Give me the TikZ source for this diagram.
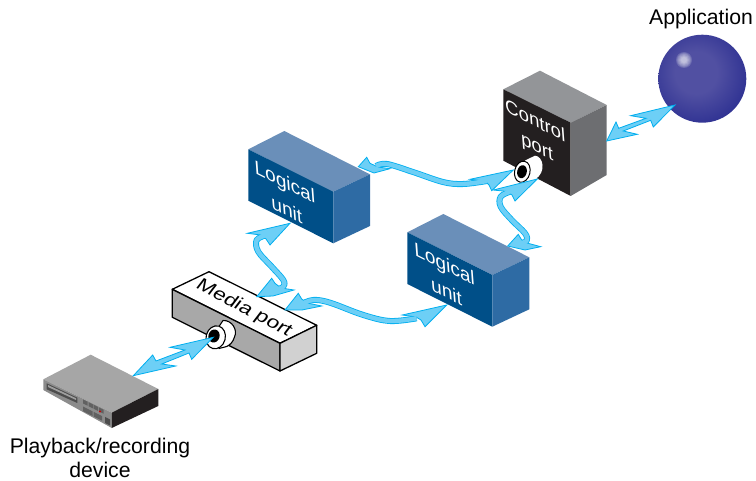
\documentclass[tikz,border=0pt]{standalone}
\usepackage{fontspec}
\setmainfont{Liberation Sans}
\definecolor{wireedge}{HTML}{00AEEF}
\definecolor{wirefill}{HTML}{6DCFF6}
\definecolor{ltop}{HTML}{6A8FB9}
\definecolor{lfront}{HTML}{004F88}
\definecolor{lside}{HTML}{2E6BA4}
\definecolor{ctop}{HTML}{939598}
\definecolor{cfront}{HTML}{231F20}
\definecolor{cside}{HTML}{6D6E71}
\definecolor{ballmid}{HTML}{5150A2}
\definecolor{balldark}{HTML}{2E3192}
\definecolor{ballrim}{HTML}{6F6FB4}
\pgfdeclareradialshading{ballbase}{\pgfpoint{-4bp}{4bp}}{
 color(0bp)=(ballmid); color(12bp)=(ballmid); color(30bp)=(balldark); color(50bp)=(balldark); color(55bp)=(ballrim); color(100bp)=(ballrim)}
\tikzset{
 x=1pt,y=-1pt,
 wireout/.style={draw=wireedge,line width=6pt,line cap=butt,line join=round},
 wirein/.style={draw=wirefill,line width=4.4pt,line cap=butt,line join=round},
 barb/.style={draw=wireedge,fill=wirefill,line width=.8pt,line join=miter},
 label/.style={font=\fontsize{21.2}{23.5}\selectfont,align=center,inner sep=0pt,text=black},
 facetext/.style={align=center,inner sep=0pt,text=white,cm={.93,-.47,-.07,.95,(0,0)}},
 lutext/.style={facetext,font=\fontsize{20.5}{29}\selectfont},
 ctltext/.style={facetext,font=\fontsize{20}{27}\selectfont},
 mediatext/.style={font=\fontsize{20}{24}\selectfont,inner sep=0pt,text=black,cm={.98,-.52,.55,.72,(0,0)}},
 mbox/.style={draw=black,line width=1.3pt,line join=round},
}
\newcommand\fatwire[3]{\draw[wireout] #1;\draw[barb] #2 -- cycle;\draw[barb] #3 -- cycle;\draw[wirein] #1;}
\begin{document}
\begin{tikzpicture}
\useasboundingbox (0,0) rectangle (756,481);
% ---------- sphere
\shade[shading=ballbase] (702.3,78.7) circle (44);
\foreach \r in {8,7,6,5,4,3}{\fill[white,opacity=.16] (684,60) circle (\r);}
\node[label] (app) at (701,19) {Application};
% ---------- control port
\fill[ctop] (503.3,89.3) -- (540,70.7) -- (606.7,105) -- (570.7,122.7) -- cycle;
\fill[cfront] (503.3,89.3) -- (570.7,122.7) -- (570.7,196) -- (503.3,160.7) -- cycle;
\fill[cside] (570.7,122.7) -- (606.7,105) -- (606.7,175) -- (570.7,196) -- cycle;
\node[ctltext] (ctl) at (536.3,135) {Control\\port};
% cylinder
\fill[white] (525,160.5) -- (535,155.7) .. controls (543,156) and (547,172) .. (535,179.5) -- (520,183) -- cycle;
\fill[white,draw=black,line width=1pt,rotate around={-13:(522.3,171.7)}] (522.3,171.7) ellipse (7.7 and 10.7);
\fill[black,rotate around={-13:(522,171.7)}] (522,171.7) ellipse (4.8 and 6.6);
% ---------- logical units
\fill[ltop] (248.3,149.3) -- (284.3,131) -- (370,174.3) -- (333.3,191.7) -- cycle;
\fill[lfront] (248.3,149.3) -- (333.3,191.7) -- (333.3,243.3) -- (248.3,200.7) -- cycle;
\fill[lside] (333.3,191.7) -- (370,174.3) -- (370,226) -- (333.3,243.3) -- cycle;
\node[lutext] (lu1) at (285.8,195.5) {Logical\\unit};
\fill[ltop] (407.3,232.3) -- (443.3,214) -- (529.3,257.3) -- (492.3,275) -- cycle;
\fill[lfront] (407.3,232.3) -- (492.3,275) -- (492.3,326.7) -- (407.3,284) -- cycle;
\fill[lside] (492.3,275) -- (529.3,257.3) -- (529.3,309.3) -- (492.3,326.7) -- cycle;
\node[lutext] (lu2) at (445.5,277.5) {Logical\\unit};
% ---------- media port
\draw[mbox,fill=white] (172.3,289.3) -- (209,271.7) -- (316.7,325.3) -- (280,343.3) -- cycle;
\draw[mbox,fill=black!34] (172.3,289.3) -- (280,343.3) -- (280,371) -- (172.3,317.3) -- cycle;
\draw[mbox,fill=black!18] (280,343.3) -- (316.7,325.3) -- (316.7,353.3) -- (280,371) -- cycle;
\node[mediatext] (media) at (244,308.5) {Media port};
\draw[black,line width=1.1pt,fill=white,line join=round] (219,326.5) -- (223,320.5) .. controls (232,320) and (238,330) .. (234.5,337) .. controls (233,342) and (230,345) .. (226.7,346.5) -- (219,348.5) -- cycle;
\draw[black,line width=1.1pt,fill=white,rotate around={-15:(215.7,337.3)}] (215.7,337.3) ellipse (9.6 and 11.6);
\fill[black,rotate around={-15:(214,336)}] (214,336) ellipse (5.6 and 6.6);
% ---------- device
\fill[black!35] (43.3,379.3) -- (90.7,354.7) -- (158.3,389) -- (111.7,412.7) -- cycle;
\fill[black!45] (43.3,379.3) -- (111.7,412.7) -- (111.7,428) -- (43.3,390) -- cycle;
\fill[cfront] (111.7,412.7) -- (158.3,389) -- (158.3,406) -- (111.7,428) -- cycle;
\fill[black!70] (46.7,383.3) -- (77.3,397.7) -- (77.3,403) -- (46.7,389.3) -- cycle;
\fill[black!38] (48,385) -- (76,398.2) -- (76,400) -- (48,387) -- cycle;
\foreach \x in {83,88.5,93.5,99}{
 \fill[black!62] (\x,{399.5+(\x-83)*.5}) -- ++(4.5,2.2) -- ++(0,4) -- ++(-4.5,-2.2) -- cycle;}
\fill[black!62] (83,406.5) -- (92.5,411.3) -- (92.5,416) -- (83,411.2) -- cycle;
\fill[black!62] (93.5,411.8) -- (102,416) -- (102,420.7) -- (93.5,416.5) -- cycle;
\fill[red!80!black] (100,411.5) circle (1.2);
\fill[black!70] (105,417) -- (110,419.5) -- (110,425.5) -- (105,423) -- cycle;
\node[label] (dev) at (100,458) {Playback/recording\\device};
% ---------- connector anchors
\coordinate (appT) at (675,105);
\coordinate (ctlS) at (606.7,141);
\coordinate (medP) at (213.3,337.3);
\coordinate (devT) at (133.3,375.7);
\coordinate (luaR) at (358.3,166.7);
\coordinate (ctlA) at (513.3,170);
\coordinate (ctlB) at (537.3,179);
\coordinate (lubT) at (507.7,246);
\coordinate (luaB) at (290,223.3);
\coordinate (medA) at (256.7,296.7);
\coordinate (medB) at (285,310);
\coordinate (lubL) at (446.7,305);
% ---------- connectors
\draw[barb] (appT) -- (630.7,115.7) -- (646,118.3) -- (618.7,128.3) -- (616,122) -- (ctlS) -- (637.3,134.3) -- (623.3,131) -- (650.7,120.3) -- (653.3,127) -- cycle;
\draw[barb] (medP) -- (170,347.3) -- (185,350) -- (156,361) -- (152.7,355) -- (devT) -- (175.7,366) -- (161.7,364) -- (189,353) -- (191.7,359.3) -- cycle;
\fatwire{plot[smooth,tension=.6] coordinates {(376,166) (387,164) (413,172) (443,182) (463,184) (487,181)}}
 {(luaR) -- (366.7,157.3) -- (370,163.3) -- (378,167) -- (390,168.7) -- (374,173)}
 {(ctlA) -- (470,179.3) -- (485,181) -- (489,185) -- (491.7,190.7)}
\fatwire{plot[smooth,tension=.6] coordinates {(510,191.7) (500.7,196.7) (500.7,206.7) (511.7,220) (525,233.3) (526.7,240.7) (520,243.3)}}
 {(ctlB) -- (493.3,190) -- (507,191.5) -- (512,195) -- (515,201)}
 {(lubT) -- (518.3,234.3) -- (521.7,240) -- (527,243) -- (540.7,246.7) -- (525,250)}
\fatwire{plot[smooth,tension=.6] coordinates {(266.7,235) (256.7,240) (258.3,251.7) (271.7,266.7) (283.3,280) (283.3,286.7) (275,290)}}
 {(luaB) -- (247.3,233.3) -- (261,235) -- (266,239) -- (270,245)}
 {(medA) -- (271.7,278.3) -- (275,283.3) -- (281,288) -- (294,290) -- (273,296)}
\fatwire{plot[smooth,tension=.6] coordinates {(301.7,304) (313.3,300) (330,302.7) (363.3,315) (390,321) (416.7,318.3)}}
 {(medB) -- (298.3,293.3) -- (301.7,299) -- (307,303) -- (321.7,306) -- (302,310)}
 {(lubL) -- (402.3,315) -- (416,317) -- (421,320) -- (425,326.7)}
\end{tikzpicture}
\end{document}
